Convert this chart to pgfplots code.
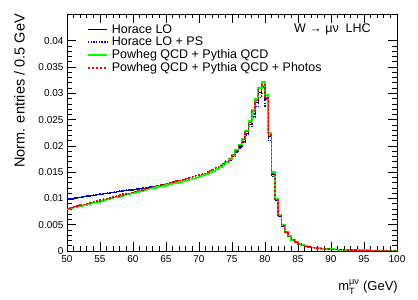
\documentclass[border=0pt]{standalone}
\usepackage{amsmath}
\usepackage{pgfplots}
\pgfplotsset{compat=1.18}
\usepackage{pgfplotstable}
\usepackage{fontspec}
\setmainfont{Liberation Sans}
\pgfplotstableread{
x k b g r
50.0 0.00980 0.00985 0.00800 0.00810
50.5 0.00990 0.00995 0.00816 0.00826
51.0 0.01000 0.01005 0.00831 0.00842
51.5 0.01010 0.01015 0.00847 0.00858
52.0 0.01020 0.01025 0.00862 0.00874
52.5 0.01030 0.01035 0.00878 0.00890
53.0 0.01040 0.01045 0.00893 0.00906
53.5 0.01050 0.01055 0.00909 0.00922
54.0 0.01060 0.01065 0.00924 0.00938
54.5 0.01070 0.01075 0.00940 0.00954
55.0 0.01080 0.01085 0.00955 0.00970
55.5 0.01089 0.01094 0.00971 0.00986
56.0 0.01098 0.01103 0.00986 0.01002
56.5 0.01107 0.01112 0.01002 0.01018
57.0 0.01116 0.01121 0.01017 0.01034
57.5 0.01125 0.01130 0.01033 0.01050
58.0 0.01134 0.01139 0.01048 0.01066
58.5 0.01143 0.01148 0.01064 0.01082
59.0 0.01152 0.01157 0.01079 0.01098
59.5 0.01161 0.01166 0.01095 0.01114
60.0 0.01170 0.01175 0.01110 0.01130
60.5 0.01179 0.01184 0.01126 0.01146
61.0 0.01188 0.01193 0.01141 0.01162
61.5 0.01197 0.01202 0.01157 0.01178
62.0 0.01207 0.01212 0.01172 0.01194
62.5 0.01217 0.01222 0.01188 0.01210
63.0 0.01227 0.01230 0.01203 0.01228
63.5 0.01237 0.01240 0.01216 0.01242
64.0 0.01248 0.01250 0.01230 0.01256
64.5 0.01259 0.01260 0.01244 0.01271
65.0 0.01270 0.01270 0.01258 0.01286
65.5 0.01282 0.01282 0.01271 0.01300
66.0 0.01294 0.01294 0.01285 0.01314
66.5 0.01307 0.01307 0.01299 0.01329
67.0 0.01320 0.01320 0.01313 0.01344
67.5 0.01334 0.01334 0.01328 0.01360
68.0 0.01349 0.01349 0.01344 0.01377
68.5 0.01365 0.01365 0.01361 0.01395
69.0 0.01382 0.01382 0.01379 0.01414
69.5 0.01400 0.01400 0.01398 0.01434
70.0 0.01420 0.01420 0.01420 0.01455
70.5 0.01442 0.01442 0.01443 0.01477
71.0 0.01466 0.01466 0.01468 0.01501
71.5 0.01493 0.01493 0.01496 0.01527
72.0 0.01523 0.01523 0.01527 0.01556
72.5 0.01556 0.01556 0.01562 0.01588
73.0 0.01593 0.01593 0.01600 0.01624
73.5 0.01634 0.01634 0.01643 0.01664
74.0 0.01680 0.01680 0.01692 0.01710
74.5 0.01740 0.01735 0.01755 0.01765
75.0 0.01810 0.01800 0.01830 0.01835
75.5 0.01890 0.01875 0.01915 0.01915
76.0 0.01980 0.01960 0.02010 0.02005
76.5 0.02090 0.02065 0.02130 0.02120
77.0 0.02240 0.02205 0.02290 0.02270
77.5 0.02410 0.02365 0.02470 0.02445
78.0 0.02610 0.02550 0.02680 0.02650
78.5 0.02820 0.02745 0.02900 0.02860
79.0 0.03010 0.02920 0.03100 0.03060
79.5 0.03120 0.03000 0.03210 0.03160
80.0 0.02880 0.02760 0.02970 0.02910
80.5 0.02180 0.02100 0.02250 0.02210
81.0 0.01460 0.01420 0.01500 0.01480
81.5 0.00975 0.00960 0.00995 0.00985
82.0 0.00665 0.00660 0.00685 0.00675
82.5 0.00475 0.00475 0.00490 0.00482
83.0 0.00355 0.00357 0.00365 0.00360
83.5 0.00270 0.00272 0.00278 0.00274
84.0 0.00210 0.00212 0.00216 0.00213
84.5 0.00166 0.00168 0.00170 0.00168
85.0 0.00133 0.00135 0.00137 0.00135
85.5 0.00108 0.00110 0.00111 0.00110
86.0 0.00090 0.00091 0.00092 0.00091
86.5 0.00076 0.00077 0.00078 0.00077
87.0 0.00065 0.00066 0.00066 0.00066
87.5 0.00056 0.00057 0.00057 0.00057
88.0 0.00049 0.00050 0.00050 0.00050
88.5 0.00043 0.00044 0.00044 0.00044
89.0 0.00038 0.00039 0.00039 0.00039
89.5 0.00034 0.00035 0.00035 0.00035
90.0 0.00030 0.00031 0.00031 0.00031
90.5 0.00027 0.00028 0.00028 0.00028
91.0 0.00024 0.00025 0.00025 0.00025
91.5 0.00022 0.00023 0.00023 0.00023
92.0 0.00020 0.00021 0.00021 0.00021
92.5 0.00018 0.00019 0.00019 0.00019
93.0 0.00017 0.00018 0.00017 0.00017
93.5 0.00016 0.00016 0.00016 0.00016
94.0 0.00015 0.00015 0.00015 0.00015
94.5 0.00014 0.00014 0.00014 0.00014
95.0 0.00013 0.00013 0.00013 0.00013
95.5 0.00012 0.00012 0.00012 0.00012
96.0 0.00011 0.00011 0.00011 0.00011
96.5 0.00011 0.00011 0.00011 0.00011
97.0 0.00010 0.00010 0.00010 0.00010
97.5 0.00010 0.00010 0.00010 0.00010
98.0 0.00009 0.00009 0.00009 0.00009
98.5 0.00009 0.00009 0.00009 0.00009
99.0 0.00008 0.00008 0.00008 0.00008
99.5 0.00008 0.00008 0.00008 0.00008
100.0 0.00008 0.00008 0.00008 0.00008
}\data
\begin{document}
\begin{tikzpicture}
\path[use as bounding box] (0,0) rectangle (418pt,300pt);
\begin{axis}[
  width=330pt, height=237pt, scale only axis,
  at={(67pt,49pt)}, anchor=south west,
  xmin=50, xmax=100, ymin=0, ymax=0.0451,
  xtick={50,55,60,65,70,75,80,85,90,95,100},
  ytick={0,0.005,0.01,0.015,0.02,0.025,0.03,0.035,0.04},
  minor x tick num=4, minor y tick num=4,
  tick align=inside,
  major tick length=9pt, minor tick length=4.5pt,
  every tick/.style={black, line width=0.7pt},
  axis line style={line width=0.9pt},
  scaled y ticks=false,
  /pgf/number format/assume math mode=true,
  yticklabel style={/pgf/number format/fixed, /pgf/number format/precision=3},
  xticklabel style={yshift=-1pt},
  ticklabel style={font=\fontsize{10}{12}\selectfont},
  const plot,
  xlabel={$\text{m}_{\text{T}}^{\text{μν}}$ (GeV)},
  xlabel style={at={(axis description cs:1.003,-0.165)}, anchor=base east, inner sep=0pt, font=\fontsize{13}{15}\selectfont},
  ylabel={Norm. entries / 0.5 GeV},
  ylabel style={at={(axis description cs:-0.127,1)}, anchor=south east, inner sep=0pt, font=\fontsize{14.5}{16}\selectfont},
  legend image code/.code={\draw[#1] (0pt,0pt) -- (19pt,0pt);},
  legend style={draw=none, fill=none, at={(axis description cs:0.06,0.965)}, anchor=north west,
    font=\fontsize{12.5}{13}\selectfont, row sep=-1.6pt, inner sep=0pt, column sep=2pt},
  legend cell align=left,
]
\addplot[black, line width=1.1pt] table[x=x,y=k]{\data};
\addlegendentry{Horace LO}
\addplot[blue, line width=1.5pt, dash pattern=on 1.5pt off 1.2pt] table[x=x,y=b]{\data};
\addlegendentry{Horace LO + PS}
\addplot[green, line width=1.8pt] table[x=x,y=g]{\data};
\addlegendentry{Powheg QCD + Pythia QCD}
\addplot[red, line width=1.4pt, dash pattern=on 2.5pt off 1.5pt] table[x=x,y=r]{\data};
\addlegendentry{Powheg QCD + Pythia QCD + Photos}
\node[anchor=base east, font=\fontsize{12.5}{13}\selectfont, inner sep=0pt] at (axis description cs:0.921,0.920) {W → μν\ \ LHC};
\end{axis}
\end{tikzpicture}
\end{document}
